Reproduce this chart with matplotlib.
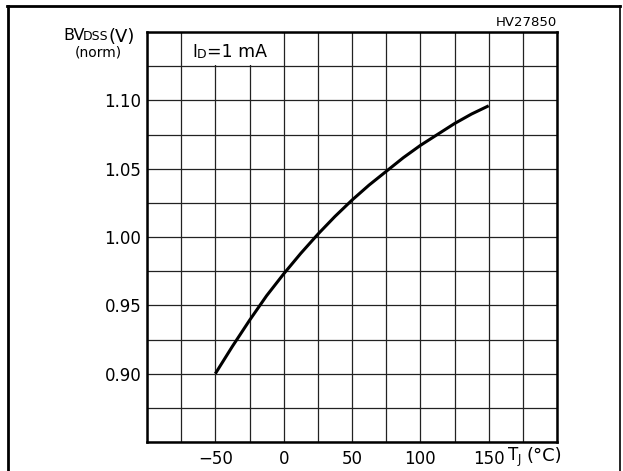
import matplotlib.pyplot as plt
from matplotlib.lines import Line2D
from matplotlib.patches import Rectangle

# junction temperature (degC) and normalised breakdown voltage
temp = [-50, -37.5, -25, -12.5, 0, 12.5, 25, 37.5, 50, 62.5, 75, 87.5, 100, 112.5, 125, 137.5, 150]
bvdss = [0.900, 0.920, 0.939, 0.957, 0.973, 0.988, 1.002, 1.015, 1.027, 1.038, 1.048,
         1.058, 1.067, 1.075, 1.083, 1.090, 1.096]

xticks = [-50, 0, 50, 100, 150]
xticklabels = ["\u221250", "0", "50", "100", "150"]
yticks = [0.90, 0.95, 1.00, 1.05, 1.10]
yticklabels = ["0.90", "0.95", "1.00", "1.05", "1.10"]

plt.rcParams["font.family"] = ["DejaVu Sans"]

fig = plt.figure(figsize=(6.23, 4.71), dpi=100)
ax = fig.add_axes([147 / 623, 1 - 442 / 471, 410 / 623, 410 / 471])

ax.set_xlim(-100, 200)
ax.set_ylim(0.85, 1.15)

# grid every 25 degC / 0.025
ax.xaxis.remove_overlapping_locs = False
ax.yaxis.remove_overlapping_locs = False
ax.set_xticks([-100 + 25 * i for i in range(13)], minor=True)
ax.set_yticks([0.85 + 0.025 * i for i in range(13)], minor=True)
ax.grid(which="minor", color="#222222", linewidth=0.9)
ax.set_axisbelow(True)
ax.set_xticks(xticks)
ax.set_xticklabels(xticklabels)
ax.set_yticks(yticks)
ax.set_yticklabels(yticklabels)
ax.tick_params(which="both", length=0, labelsize=12)
ax.tick_params(axis="x", pad=6)
ax.tick_params(axis="y", pad=4)
for s in ax.spines.values():
    s.set_linewidth(1.8)

# white box behind the condition label
ax.add_patch(Rectangle((-74, 1.126), 73, 0.0235, facecolor="white", edgecolor="none", zorder=1))
t1 = ax.text(-67, 1.132, "I", ha="left", va="baseline", fontsize=12, zorder=3)
t2 = ax.annotate("D", xy=(1, 0), xycoords=t1, xytext=(0, 0), textcoords="offset points",
                 ha="left", va="bottom", fontsize=9, zorder=3)
ax.annotate("=1 mA", xy=(1, 0), xycoords=t2, ha="left", va="bottom", fontsize=12.5, zorder=3)

ax.plot(temp, bvdss, color="black", linewidth=2.2, zorder=2, solid_capstyle="butt")

# y axis title with small-caps subscript
b1 = fig.text(63 / 623, 1 - 40 / 471, "BV", ha="left", va="baseline", fontsize=11.5)
b2 = ax.annotate("DSS", xy=(1, 0), xycoords=b1, xytext=(-1, 0), textcoords="offset points",
                 ha="left", va="bottom", fontsize=9, annotation_clip=False)
ax.annotate("(V)", xy=(1, 0), xycoords=b2, xytext=(0, -2), textcoords="offset points",
            ha="left", va="bottom", fontsize=13, annotation_clip=False)
fig.text(98 / 623, 1 - 52 / 471, "(norm)", ha="center", va="center", fontsize=10)

fig.text(507 / 623, 1 - 457 / 471, "T$_{\\mathregular{J}}$", ha="left", va="center", fontsize=12)
fig.text(526 / 623, 1 - 456 / 471, "(\u00b0C)", ha="left", va="center", fontsize=13)
fig.text(557 / 623, 1 - 23 / 471, "HV27850", ha="right", va="center", fontsize=9.5)

# outer frame
fig.add_artist(Line2D([7.5 / 623, 7.5 / 623], [0, 1 - 5.5 / 471], color="black", linewidth=2))
fig.add_artist(Line2D([6.5 / 623, 619.5 / 623], [1 - 5.5 / 471, 1 - 5.5 / 471], color="black", linewidth=2))
fig.add_artist(Line2D([619.5 / 623, 619.5 / 623], [0, 1 - 5.5 / 471], color="black", linewidth=1.2))

fig.savefig("out.png", dpi=100)
